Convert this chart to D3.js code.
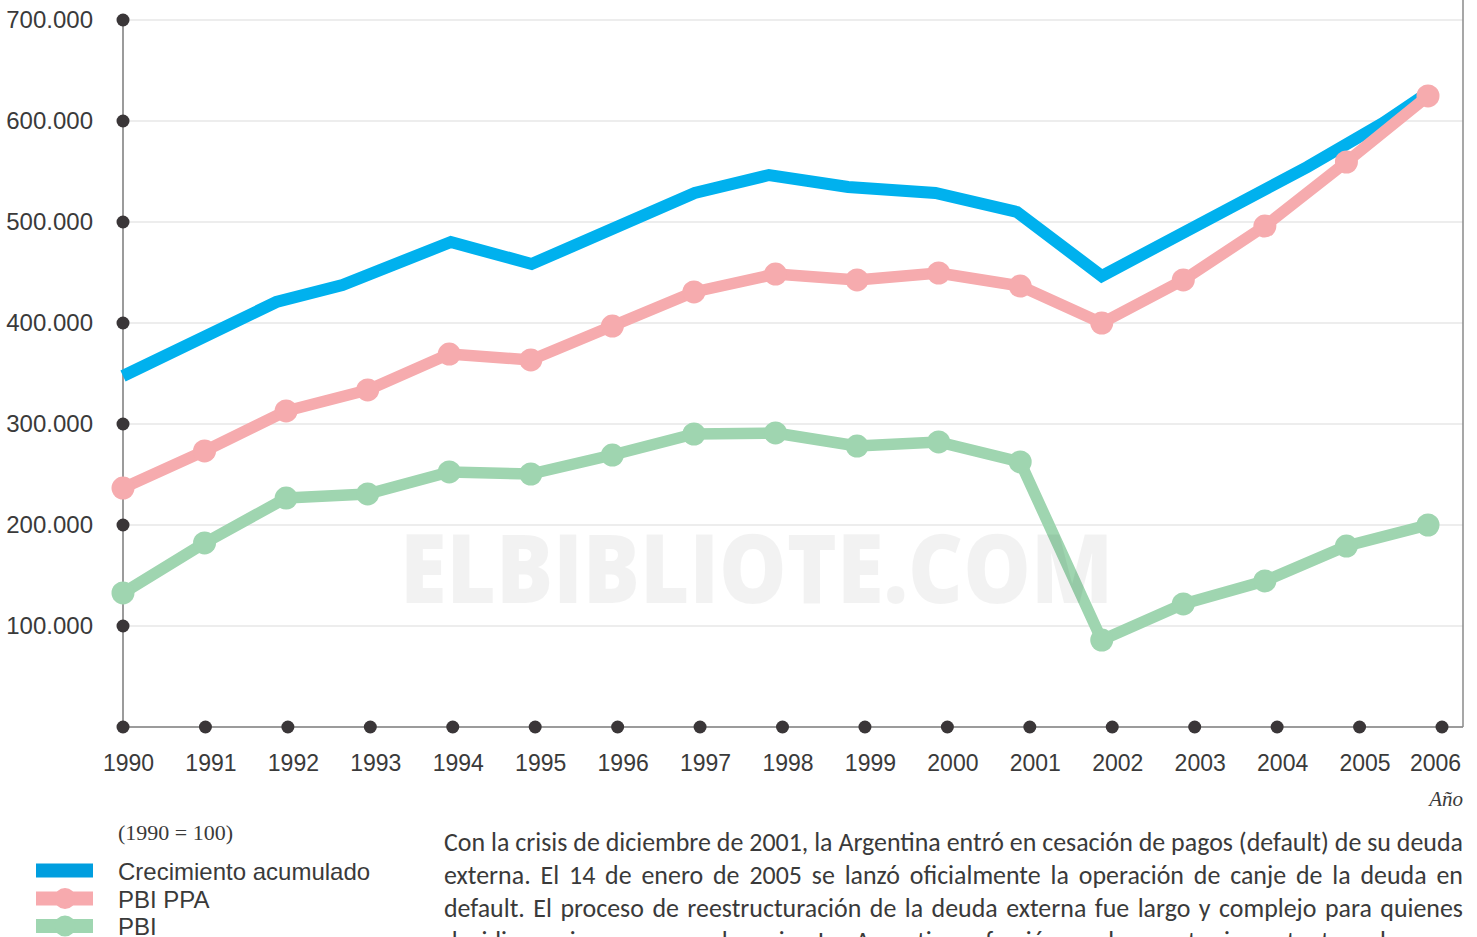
<!DOCTYPE html>
<html>
<head>
<meta charset="utf-8">
<script src="https://cdn.jsdelivr.net/npm/d3@7/dist/d3.min.js"></script>
<style>
  html, body { margin: 0; padding: 0; background: #fff; overflow: hidden; }
  svg { display: block; }
</style>
</head>
<body>
<svg id="chart" width="1477" height="937"></svg>
<script>
// ---------- DATA ----------
const years = [1990,1991,1992,1993,1994,1995,1996,1997,1998,1999,2000,2001,2002,2003,2004,2005,2006];
const yTicks = [100000,200000,300000,400000,500000,600000,700000];
const yTickLabels = ["100.000","200.000","300.000","400.000","500.000","600.000","700.000"];

const pbiPPA = [236600,273300,312900,333700,369300,363400,397000,430700,448500,442600,449500,436600,400000,442600,496000,559400,624800];
const pbi    = [132700,182200,226700,230700,252500,250500,269300,290100,291100,278200,282200,262400,86100,121800,144600,179200,200000];

// Crecimiento acumulado: vertices as drawn (fractional year positions)
const crecYears  = [1990,1991.88,1992.69,1994.02,1995.01,1997.01,1997.92,1998.89,1999.96,2000.96,2002.0,2004.52,2005.45,2006.05];
const crecValues = [347500,420800,437600,480200,458400,528700,546500,534700,528700,509900,446500,554500,598000,630700];

const seriesNames = ["Crecimiento acumulado","PBI PPA","PBI"];
const colors = { crec: "#00b1ee", ppa: "#f6abae", pbi: "#9fd5b0" };
const legendColors = ["#009edf","#f7aaae","#9fd6b1"];

const unitNote = "(1990 = 100)";
const xTitle = "Año";
const watermark = "ELBIBLIOTE.COM";
const paragraph = [
  "Con la crisis de diciembre de 2001, la Argentina entró en cesación de pagos (default) de su deuda",
  "externa. El 14 de enero de 2005 se lanzó oficialmente la operación de canje de la deuda en",
  "default. El proceso de reestructuración de la deuda externa fue largo y complejo para quienes",
  "decidieron ingresar en el canje. La Argentina ofreció un descuento importante sobre sus"
];

// ---------- LAYOUT ----------
const svg = d3.select("#chart");
const pL = 123, pR = 1463, pT = 20, pB = 727;
const FONT = "'Liberation Sans', Arial, sans-serif";

const y = d3.scaleLinear().domain([0, 700000]).range([pB, pT]);
const xTick = d3.scaleLinear().domain([1990, 2006]).range([pL, 1442]);
const xPt = d3.scaleLinear().domain([1990, 2006]).range([pL, 1428]);

// gridlines
svg.append("g").selectAll("line").data(yTicks).join("line")
  .attr("x1", pL).attr("x2", pR)
  .attr("y1", d => y(d)).attr("y2", d => y(d))
  .attr("stroke", "#dcdcdc").attr("stroke-width", 1.2);

// frame: y axis, x axis, right edge
svg.append("line").attr("x1", pL).attr("x2", pL).attr("y1", pT).attr("y2", pB)
  .attr("stroke", "#7a7a7a").attr("stroke-width", 1.5);
svg.append("line").attr("x1", pL).attr("x2", pR).attr("y1", pB).attr("y2", pB)
  .attr("stroke", "#7a7a7a").attr("stroke-width", 1.5);
svg.append("line").attr("x1", pR).attr("x2", pR).attr("y1", 0).attr("y2", pB)
  .attr("stroke", "#8a8a8a").attr("stroke-width", 1.5);

// y axis labels
const yAxis = d3.axisLeft(y).tickValues(yTicks).tickFormat((d, i) => yTickLabels[i]).tickSize(0).tickPadding(30);
const yg = svg.append("g").attr("transform", `translate(${pL},0)`).call(yAxis);
yg.select(".domain").remove();
yg.selectAll("text").attr("font-family", FONT).attr("font-size", 24).attr("fill", "#3a3a3a").attr("dy", "0.33em");

// x axis labels
const xAxis = d3.axisBottom(xTick).tickValues(years).tickFormat(d3.format("d")).tickSize(0).tickPadding(28);
const xg = svg.append("g").attr("transform", `translate(0,${pB})`).call(xAxis);
xg.select(".domain").remove();
xg.selectAll("text").attr("font-family", FONT).attr("font-size", 23).attr("fill", "#3a3a3a")
  .attr("dx", (d, i) => i === years.length - 1 ? -7 : 5);

// dots on axes
svg.append("g").selectAll("circle").data(yTicks).join("circle")
  .attr("cx", pL).attr("cy", d => y(d)).attr("r", 6.5).attr("fill", "#3a3638");
svg.append("g").selectAll("circle").data(years).join("circle")
  .attr("cx", d => xTick(d)).attr("cy", pB).attr("r", 6.5).attr("fill", "#3a3638");

// lines
const crecData = crecYears.map((yr, i) => ({ x: yr, v: crecValues[i] }));
const ppaData = years.map((yr, i) => ({ x: yr, v: pbiPPA[i] }));
const pbiData = years.map((yr, i) => ({ x: yr, v: pbi[i] }));
const lineGen = d3.line().x(d => xPt(d.x)).y(d => y(d.v));

svg.append("path").datum(crecData).attr("d", lineGen).attr("fill", "none")
  .attr("stroke", colors.crec).attr("stroke-width", 12).attr("stroke-linejoin", "miter");

function drawSeries(data, color) {
  svg.append("path").datum(data).attr("d", lineGen).attr("fill", "none")
    .attr("stroke", color).attr("stroke-width", 11.5).attr("stroke-linejoin", "round");
  svg.append("g").selectAll("circle").data(data).join("circle")
    .attr("cx", d => xPt(d.x)).attr("cy", d => y(d.v)).attr("r", 11.5).attr("fill", color);
}
drawSeries(ppaData, colors.ppa);
drawSeries(pbiData, colors.pbi);

// watermark
svg.append("text").attr("x", 400).attr("y", 603)
  .attr("font-family", "'Open Sans', Lato, sans-serif").attr("font-weight", 800)
  .attr("font-size", 96).attr("textLength", 713).attr("lengthAdjust", "spacingAndGlyphs")
  .attr("fill", "#000").attr("fill-opacity", 0.05).text(watermark);

// x title
svg.append("text").attr("x", 1463).attr("y", 806).attr("text-anchor", "end")
  .attr("font-family", "'Liberation Serif', 'Times New Roman', serif").attr("font-style", "italic")
  .attr("font-size", 21).attr("fill", "#3a3a3a").text(xTitle);

// legend
svg.append("text").attr("x", 118).attr("y", 840)
  .attr("font-family", "'Liberation Serif', 'Times New Roman', serif")
  .attr("font-size", 22).attr("fill", "#3a3a3a").text(unitNote);
const legY = [870.5, 898.5, 926];
const lg = svg.append("g");
seriesNames.forEach((name, i) => {
  lg.append("rect").attr("x", 36).attr("y", legY[i] - 7).attr("width", 57).attr("height", 14)
    .attr("fill", legendColors[i]);
  if (i > 0) lg.append("circle").attr("cx", 65).attr("cy", legY[i]).attr("r", 10.5).attr("fill", legendColors[i]);
  lg.append("text").attr("x", 118).attr("y", legY[i] + 9)
    .attr("font-family", FONT).attr("font-size", 24).attr("fill", "#3a3a3a").text(name);
});

// justified paragraph
const pX0 = 444, pX1 = 1463, pBase = [851, 884, 917, 950];
let pSize = 24;
const PFONT = "Carlito, 'Liberation Sans Narrow', 'Open Sans', sans-serif";
function measureLine(words, size) {
  const t = svg.append("text").attr("font-family", PFONT).attr("font-size", size);
  const ws = words.map(w => { t.text(w); return t.node().getComputedTextLength(); });
  t.remove();
  return ws;
}
let maxNat = 0;
paragraph.forEach(l => {
  const words = l.split(" ");
  const ws = measureLine(words, pSize);
  const sp = pSize * 0.226;
  maxNat = Math.max(maxNat, d3.sum(ws) + sp * (words.length - 1));
});
pSize = Math.min(27, pSize * (pX1 - pX0) / maxNat);
paragraph.forEach((l, li) => {
  const words = l.split(" ");
  const ws = measureLine(words, pSize);
  const gap = (pX1 - pX0 - d3.sum(ws)) / (words.length - 1);
  const t = svg.append("text").attr("y", pBase[li]).attr("font-family", PFONT)
    .attr("font-size", pSize).attr("fill", "#3a3a3a");
  let x = pX0;
  words.forEach((w, wi) => {
    t.append("tspan").attr("x", x).text(w);
    x += ws[wi] + gap;
  });
});
</script>
</body>
</html>
